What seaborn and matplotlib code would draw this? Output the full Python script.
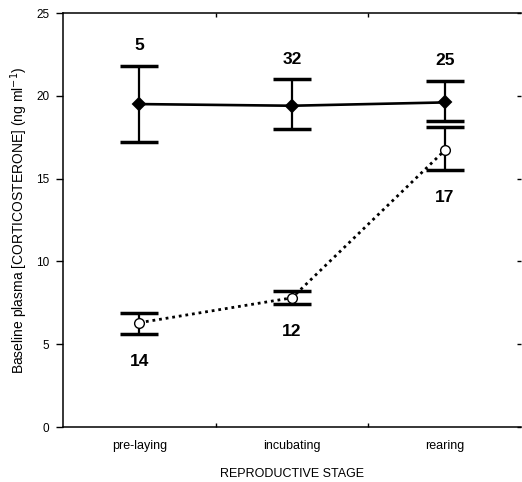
import matplotlib
matplotlib.use("Agg")
import matplotlib.pyplot as plt
import seaborn as sns
import pandas as pd
import numpy as np

# Values
stages = ["pre-laying", "incubating", "rearing"]

solid_mean = [19.5, 19.4, 19.6]
solid_lo = [17.2, 18.0, 18.5]
solid_hi = [21.8, 21.0, 20.9]
solid_n = ["5", "32", "25"]

open_mean = [6.3, 7.8, 16.7]
open_lo = [5.6, 7.4, 15.5]
open_hi = [6.9, 8.2, 18.1]
open_n = ["14", "12", "17"]

sns.set_style("ticks", {"axes.edgecolor": "black", "text.color": "black",
                        "axes.labelcolor": "black", "xtick.color": "black",
                        "ytick.color": "black"})
plt.rcParams["font.family"] = ["Liberation Sans", "DejaVu Sans"]

fig = plt.figure(figsize=(5.22, 4.82), dpi=100)
ax = fig.add_axes([63 / 522, 1 - 427 / 482, (521 - 63) / 522, (427 - 13) / 482])

df_solid = pd.DataFrame({"stage": stages, "value": solid_mean})
df_open = pd.DataFrame({"stage": stages, "value": open_mean})

sns.pointplot(data=df_solid, x="stage", y="value", color="black", markers="D",
              linestyles="-", errorbar=None, ax=ax, linewidth=1.9, markersize=5.8)
sns.pointplot(data=df_open, x="stage", y="value", color="black", markers="o",
              linestyles=":", errorbar=None, ax=ax, linewidth=2.0, markersize=7)

lines = ax.get_lines()
lines[0].set_zorder(4)
lines[1].set_zorder(4)
lines[1].set_markerfacecolor("white")
lines[1].set_markeredgewidth(1.0)
lines[1].set_dashes((1, 1.4))

xpos = np.arange(len(stages))
for mean, lo, hi in [(solid_mean, solid_lo, solid_hi), (open_mean, open_lo, open_hi)]:
    mean = np.array(mean)
    yerr = [mean - np.array(lo), np.array(hi) - mean]
    ax.errorbar(xpos, mean, yerr=yerr, fmt="none", ecolor="black",
                elinewidth=1.6, capsize=14, capthick=2.5, zorder=3)

# sample sizes
for i in range(len(stages)):
    ax.annotate(solid_n[i], (xpos[i], solid_hi[i]), xytext=(0, 14.5),
                textcoords="offset points", ha="center", va="center",
                fontsize=12.5, fontweight="bold", color="black")
    ax.annotate(open_n[i], (xpos[i], open_lo[i]), xytext=(0, -19.5),
                textcoords="offset points", ha="center", va="center",
                fontsize=12.5, fontweight="bold", color="black")

ax.set_xlim(-0.5, 2.5)
ax.set_ylim(0, 25)
ax.set_yticks([0, 5, 10, 15, 20, 25])
ax.set_xticks(xpos)
ax.set_xticklabels(stages)
ax.set_xticks([0.5, 1.5], minor=True)

ax.tick_params(axis="x", which="major", length=0, labelsize=9, pad=9)
ax.tick_params(axis="x", which="minor", direction="in", length=3, width=1,
               top=True, bottom=True)
ax.tick_params(axis="y", which="major", direction="out", length=5, width=1,
               labelsize=8.5, pad=5)

ax.set_xlabel("REPRODUCTIVE STAGE", fontsize=9, labelpad=12)
ax.set_ylabel("Baseline plasma [CORTICOSTERONE] (ng ml$^{-1}$)", fontsize=10,
              labelpad=4)

for s in ["left", "bottom", "top"]:
    ax.spines[s].set_linewidth(1.1)
    ax.spines[s].set_visible(True)
ax.spines["right"].set_visible(False)

ax2 = ax.twinx()
ax2.set_ylim(0, 25)
ax2.set_yticks([0, 5, 10, 15, 20, 25])
ax2.tick_params(axis="y", direction="in", length=3, width=1, labelright=False)
for s in ["left", "bottom", "top", "right"]:
    ax2.spines[s].set_visible(False)

fig.savefig("out.png", dpi=100, facecolor="white")
